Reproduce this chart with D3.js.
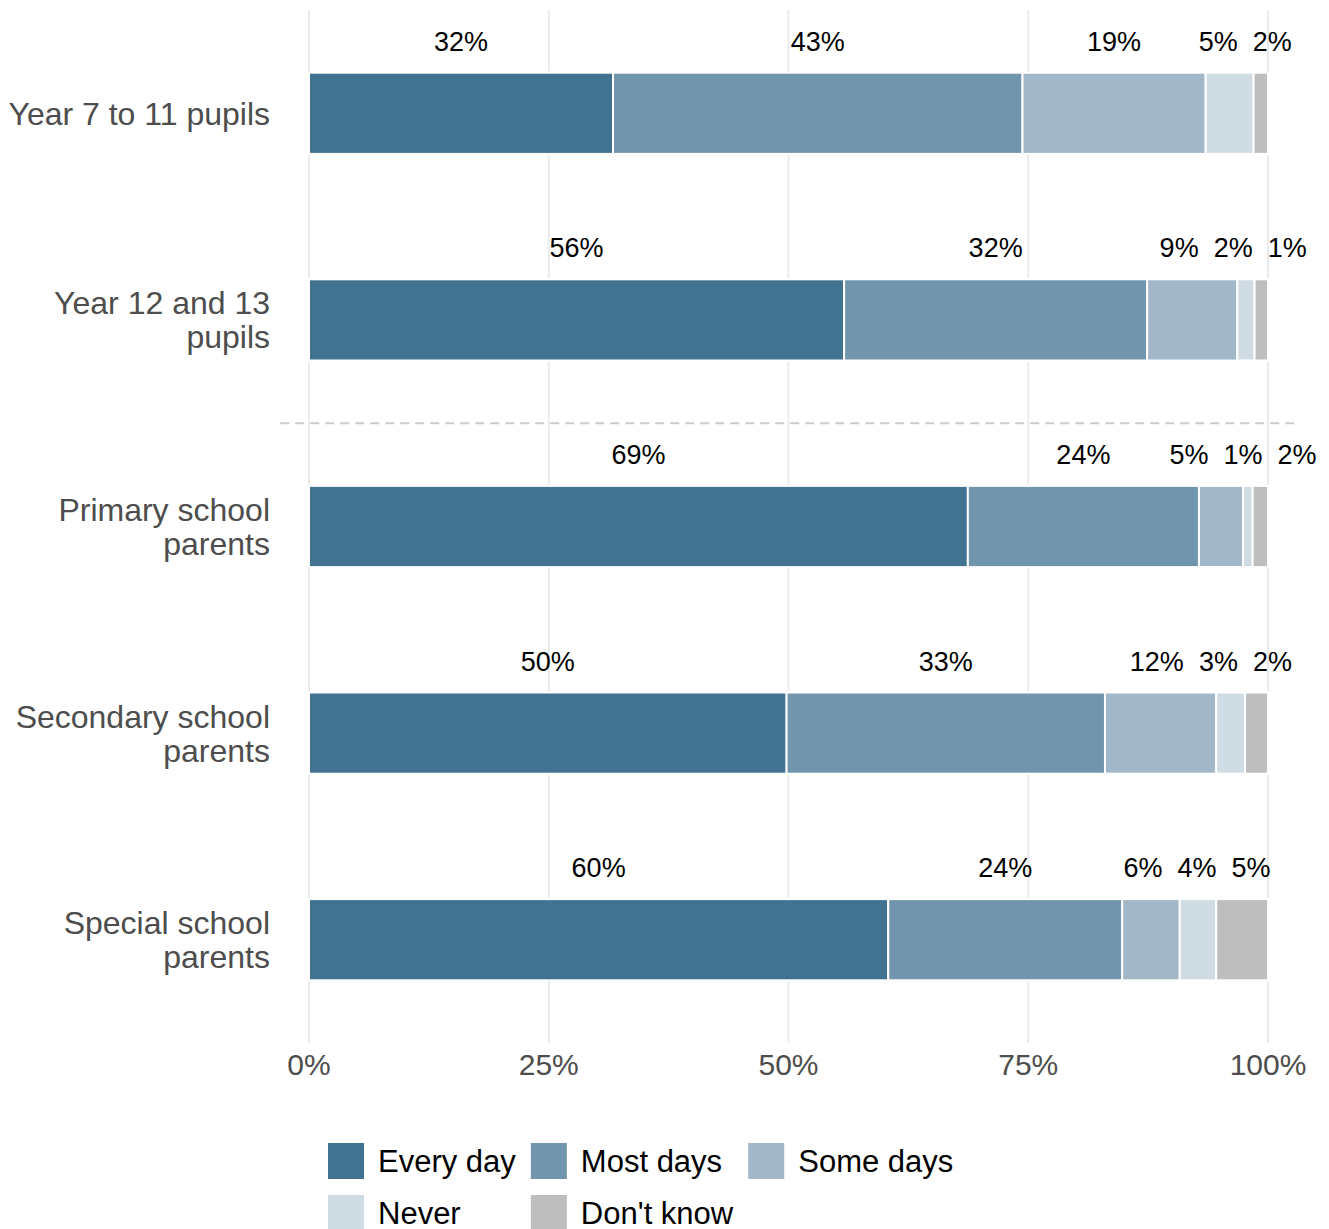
<!DOCTYPE html>
<html>
<head>
<meta charset="utf-8">
<script src="https://cdn.jsdelivr.net/npm/d3@7"></script>
<style>
  html, body { margin: 0; padding: 0; background: #ffffff; }
  svg { display: block; font-family: "Liberation Sans", Arial, Helvetica, sans-serif; }
</style>
</head>
<body>
<svg id="chart" width="1329" height="1229"></svg>
<script>
// ---- Data ----
const categories = ["Year 7 to 11 pupils", "Year 12 and 13 pupils", "Primary school parents", "Secondary school parents", "Special school parents"];
const responses = ["Every day", "Most days", "Some days", "Never", "Don't know"];
const everyDay  = [31.7, 55.8, 68.7, 49.8, 60.4];
const mostDays  = [42.7, 31.6, 24.1, 33.2, 24.4];
const someDays  = [19.1,  9.4,  4.6, 11.6,  6.0];
const never     = [ 5.0,  1.8,  1.0,  3.0,  3.8];
const dontKnow  = [ 1.5,  1.4,  1.6,  2.4,  5.4];
const xTicks = [0, 25, 50, 75, 100];
const colors = ["#41728f", "#7195ad", "#a2b7c7", "#d0dce4", "#bebebe"];

const seriesValues = [everyDay, mostDays, someDays, never, dontKnow];
const rows = categories.map((c, i) => {
  const r = { category: c };
  responses.forEach((s, j) => { r[s] = seriesValues[j][i]; });
  return r;
});

// ---- Layout ----
const svg = d3.select("#chart");
const x = d3.scaleLinear().domain([0, 100]).range([309, 1268]);
const y = d3.scaleBand().domain(categories).range([10, 1043]).paddingInner(0.607).paddingOuter(0.3035);
const color = d3.scaleOrdinal().domain(responses).range(colors);

// Gridlines
svg.append("g").selectAll("line").data(xTicks).join("line")
  .attr("x1", d => x(d)).attr("x2", d => x(d))
  .attr("y1", 10).attr("y2", 1043)
  .attr("stroke", "#ebebeb").attr("stroke-width", 2);

// Dashed separator between pupils and parents
const sepY = (y(categories[1]) + y.bandwidth() + y(categories[2])) / 2;
svg.append("line")
  .attr("x1", x(-3)).attr("x2", x(103))
  .attr("y1", sepY).attr("y2", sepY)
  .attr("stroke", "#cccccc").attr("stroke-width", 2)
  .attr("stroke-dasharray", "9,6");

// Bars
const stacked = d3.stack().keys(responses)(rows);
const layers = svg.append("g").selectAll("g").data(stacked).join("g")
  .attr("fill", d => color(d.key));
layers.selectAll("rect").data(d => d).join("rect")
  .attr("x", d => x(d[0]))
  .attr("width", d => x(d[1]) - x(d[0]))
  .attr("y", d => y(d.data.category))
  .attr("height", y.bandwidth())
  .attr("stroke", "#ffffff").attr("stroke-width", 2);

// Value labels with simple horizontal repel
const labelG = svg.append("g").attr("font-size", 27).attr("fill", "#000000").attr("text-anchor", "middle");
categories.forEach((cat, i) => {
  const items = stacked.map(layer => {
    const d = layer[i];
    return { text: Math.round(d[1] - d[0]) + "%", cx: x((d[0] + d[1]) / 2) };
  });
  const texts = items.map(it => labelG.append("text")
    .attr("y", y(cat) - 22)
    .text(it.text));
  items.forEach((it, k) => { it.w = texts[k].node().getComputedTextLength(); });
  const pad = 15;
  for (let iter = 0; iter < 300; iter++) {
    for (let k = 0; k < items.length - 1; k++) {
      const a = items[k], b = items[k + 1];
      const need = (a.w + b.w) / 2 + pad;
      const d = b.cx - a.cx;
      if (d < need) {
        const s = (need - d) / 2;
        a.cx -= s; b.cx += s;
      }
    }
  }
  texts.forEach((t, k) => t.attr("x", items[k].cx));
});

// Y axis labels (wrapped at 20 chars)
function wrap(str, width) {
  const words = str.split(" ");
  const lines = [];
  let cur = "";
  words.forEach(w => {
    const t = cur ? cur + " " + w : w;
    if (t.length > width && cur) { lines.push(cur); cur = w; } else cur = t;
  });
  if (cur) lines.push(cur);
  return lines;
}
const yLab = svg.append("g").attr("font-size", 32).attr("fill", "#4d4d4d").attr("text-anchor", "end");
categories.forEach(cat => {
  const lines = wrap(cat, 20);
  const center = y(cat) + y.bandwidth() / 2;
  const L = 34;
  lines.forEach((ln, i) => {
    yLab.append("text")
      .attr("x", 270)
      .attr("y", center + 11.5 - (lines.length - 1) * L / 2 + i * L)
      .text(ln);
  });
});

// X axis tick labels
svg.append("g").attr("font-size", 30).attr("fill", "#4d4d4d").attr("text-anchor", "middle")
  .selectAll("text").data(xTicks).join("text")
  .attr("x", d => x(d)).attr("y", 1075)
  .text(d => d + "%");

// Legend (3 columns, by row)
const legend = svg.append("g").attr("font-size", 31).attr("fill", "#000000");
const ncol = 3, keySize = 36, rowH = 52, textOff = 50, colGap = 15;
const measure = legend.append("text").attr("visibility", "hidden");
const widths = responses.map(r => { measure.text(r); return measure.node().getComputedTextLength(); });
measure.remove();
const colX = [328];
for (let c = 1; c < ncol; c++) {
  let maxW = 0;
  responses.forEach((r, i) => { if (i % ncol === c - 1) maxW = Math.max(maxW, widths[i]); });
  colX.push(colX[c - 1] + textOff + maxW + colGap);
}
responses.forEach((r, i) => {
  const cx = colX[i % ncol];
  const ry = 1143 + Math.floor(i / ncol) * rowH;
  legend.append("rect").attr("x", cx).attr("y", ry).attr("width", keySize).attr("height", keySize).attr("fill", color(r));
  legend.append("text").attr("x", cx + textOff).attr("y", ry + keySize / 2 + 11).text(r);
});
</script>
</body>
</html>
